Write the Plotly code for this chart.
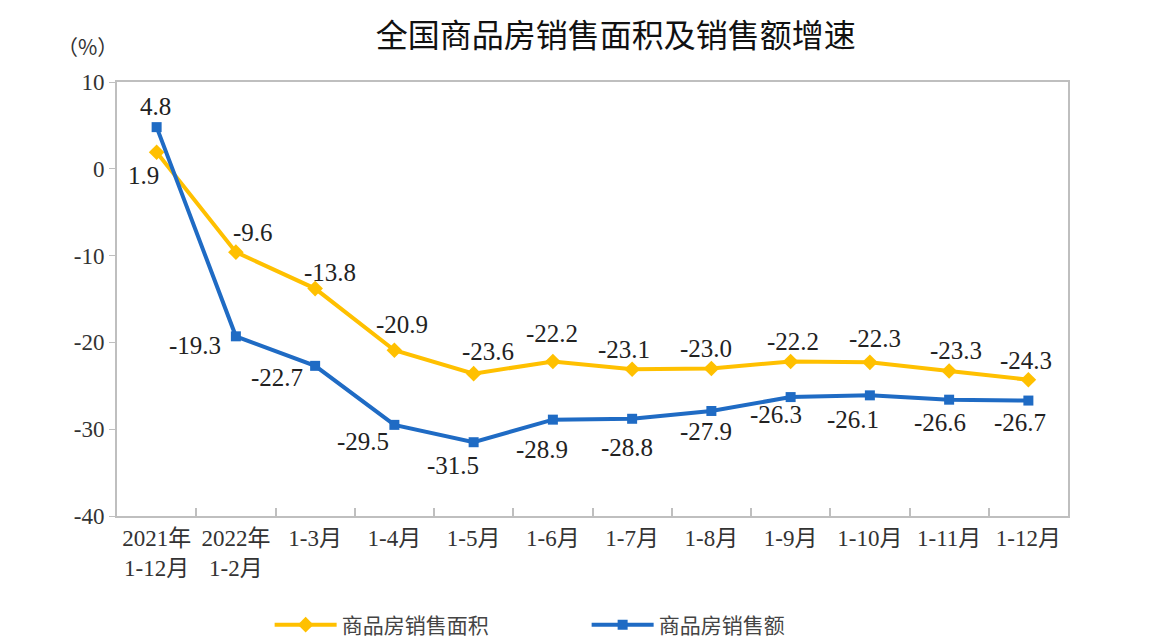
import plotly.graph_objects as go

categories = ["2021年<br>1-12月", "2022年<br>1-2月", "1-3月", "1-4月", "1-5月", "1-6月",
              "1-7月", "1-8月", "1-9月", "1-10月", "1-11月", "1-12月"]
area_growth = [1.9, -9.6, -13.8, -20.9, -23.6, -22.2, -23.1, -23.0, -22.2, -22.3, -23.3, -24.3]
sales_growth = [4.8, -19.3, -22.7, -29.5, -31.5, -28.9, -28.8, -27.9, -26.3, -26.1, -26.6, -26.7]
y_ticks = [10, 0, -10, -20, -30, -40]
y_tick_labels = ["10", "0", "-10", "-20", "-30", "-40"]

# label offsets (pixels, right / up) relative to each point
area_dx = [-13, 17, 15, 8, 14, -1, -8, -5, 2, 5, 7, -2]
area_dy = [-23, 20, 16, 26, 22, 28, 20, 20, 20, 24, 21, 19]
sales_dx = [-1, -41, -38, -31, -21, -11, -5, -5, -15, -17, -9, -8]
sales_dy = [21, -9, -12, -17, -23, -30, -29, -21, -17, -24, -23, -22]

YELLOW = "#FFC000"
BLUE = "#1F6BC4"
FONT = "Liberation Serif, Noto Sans CJK SC, serif"

fig = go.Figure()
fig.add_trace(go.Scatter(
    x=categories, y=area_growth, name="商品房销售面积", mode="lines+markers",
    line=dict(color=YELLOW, width=4), marker=dict(symbol="diamond", size=12, color=YELLOW),
    cliponaxis=False))
fig.add_trace(go.Scatter(
    x=categories, y=sales_growth, name="商品房销售额", mode="lines+markers",
    line=dict(color=BLUE, width=4), marker=dict(symbol="square", size=10, color=BLUE),
    cliponaxis=False))

for vals, dxs, dys in [(area_growth, area_dx, area_dy), (sales_growth, sales_dx, sales_dy)]:
    for c, v, dx, dy in zip(categories, vals, dxs, dys):
        fig.add_annotation(x=c, y=v, text=f"{v:.1f}", showarrow=False, xanchor="center",
                           yanchor="middle", xshift=dx, yshift=dy,
                           font=dict(size=25, color="#222222", family=FONT))

fig.update_layout(
    width=1151, height=643, paper_bgcolor="white", plot_bgcolor="white",
    margin=dict(l=109, r=91, t=74, b=135),
    font=dict(family=FONT, size=20, color="#333333"),
    title=dict(text="全国商品房销售面积及销售额增速", x=0.528, xanchor="center", y=0.956, yanchor="middle",
               font=dict(size=32, color="#111111", family="Noto Sans CJK SC")),
    showlegend=True,
    legend=dict(orientation="h", x=0.1605, xanchor="left", yref="container", y=0.0404, yanchor="middle",
                font=dict(size=21, color="#444444", family="Noto Sans CJK SC"), entrywidth=240,
                entrywidthmode="pixels", itemwidth=62),
    xaxis=dict(type="category", range=[-0.5, 11.5], showline=True, linecolor="#BFBFBF", linewidth=2,
               mirror=True, ticks="inside", tickson="boundaries", ticklen=8, tickcolor="#BFBFBF",
               tickwidth=1.5, showgrid=False, automargin=False,
               tickfont=dict(size=23, color="#333333", family=FONT)),
    yaxis=dict(range=[-40, 10], tickvals=y_ticks, ticktext=y_tick_labels, showline=True,
               linecolor="#BFBFBF", linewidth=2,
               mirror=True, ticks="outside", ticklen=6, tickcolor="#BFBFBF", showgrid=False,
               zeroline=False, automargin=False,
               tickfont=dict(size=23, color="#333333", family=FONT)),
)
fig.add_annotation(text="（%）", xref="paper", yref="paper", x=-0.0305, y=1.0, yshift=19,
                   showarrow=False, xanchor="center", yanchor="bottom",
                   font=dict(size=21, color="#333333", family="Noto Sans CJK SC"))
fig.write_html("out.html")
